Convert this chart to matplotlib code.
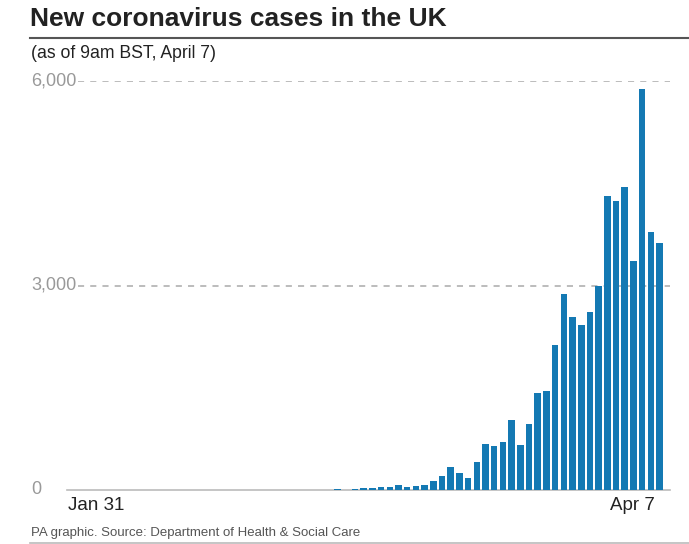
import matplotlib.pyplot as plt
from matplotlib.lines import Line2D
import matplotlib.transforms as mtransforms

plt.rcParams['font.family'] = ['Liberation Sans', 'DejaVu Sans']

# Daily new cases, Jan 31 to Apr 7 (68 days)
feb_cases = [2, 0, 0, 0, 0, 0, 1, 0, 0, 1, 4, 0, 1, 0, 0, 0, 0, 0, 0, 0,
             0, 0, 0, 0, 4, 0, 0, 2, 5, 3]
mar_cases = [13, 4, 11, 34, 29, 48, 45, 69, 43, 62, 77, 130, 208, 342, 244,
             171, 407, 673, 644, 707, 1034, 658, 961, 1424, 1448, 2121, 2877,
             2536, 2424, 2609, 2994]
apr_cases = [4311, 4233, 4438, 3365, 5877, 3789, 3623]
cases = feb_cases + mar_cases + apr_cases

y_ticks = [0, 3000, 6000]
y_tick_labels = ['0', '3,000', '6,000']
x_labels = ['Jan 31', 'Apr 7']

W, H = 689, 544
fig = plt.figure(figsize=(W / 100, H / 100), dpi=100)

def fx(px):
    return px / W

def fy(py):
    return 1 - py / H

ax = fig.add_axes([fx(67), fy(490), fx(670) - fx(67), fy(81) - fy(490)])
days = list(range(len(cases)))
ax.bar(days, cases, width=0.75, color='#1479b3', zorder=3)
ax.set_xlim(-1.1, 68.2)
ax.set_ylim(0, 6000)
ax.set_xticks([])
ax.set_yticks([])
for s in ['top', 'right', 'left']:
    ax.spines[s].set_visible(False)
ax.spines['bottom'].set_color('#bbbbbb')
ax.spines['bottom'].set_linewidth(1.2)

# dashed gridlines and left-aligned tick labels
for val, lab in zip(y_ticks, y_tick_labels):
    if val > 0:
        ax.axhline(val, xmin=0.018, xmax=1, color='#aaaaaa', lw=1.1,
                   ls=(0, (4, 4)), zorder=1)
    trans = mtransforms.blended_transform_factory(fig.transFigure, ax.transData)
    ax.text(fx(31), val, lab, transform=trans, ha='left', va='center',
            fontsize=13, color='#999999')

# x labels
fig.text(fx(68), fy(506), x_labels[0], ha='left', va='center', fontsize=13.5, color='#222222')
fig.text(fx(655), fy(506), x_labels[1], ha='right', va='center', fontsize=13.5, color='#222222')

# title, subtitle, rules, source
fig.text(fx(30), fy(19), 'New coronavirus cases in the UK', ha='left', va='center',
         fontsize=19, fontweight='bold', color='#222222')
fig.add_artist(Line2D([fx(30), 1], [fy(38), fy(38)], color='#555555', lw=1.5))
fig.text(fx(31), fy(53), '(as of 9am BST, April 7)', ha='left', va='center',
         fontsize=12.7, color='#222222')
fig.text(fx(31), fy(533), 'PA graphic. Source: Department of Health & Social Care',
         ha='left', va='center', fontsize=9.5, color='#555555')
fig.add_artist(Line2D([fx(30), 1], [fy(543), fy(543)], color='#bbbbbb', lw=1.2))

fig.savefig('out.png', dpi=100, facecolor='white')
